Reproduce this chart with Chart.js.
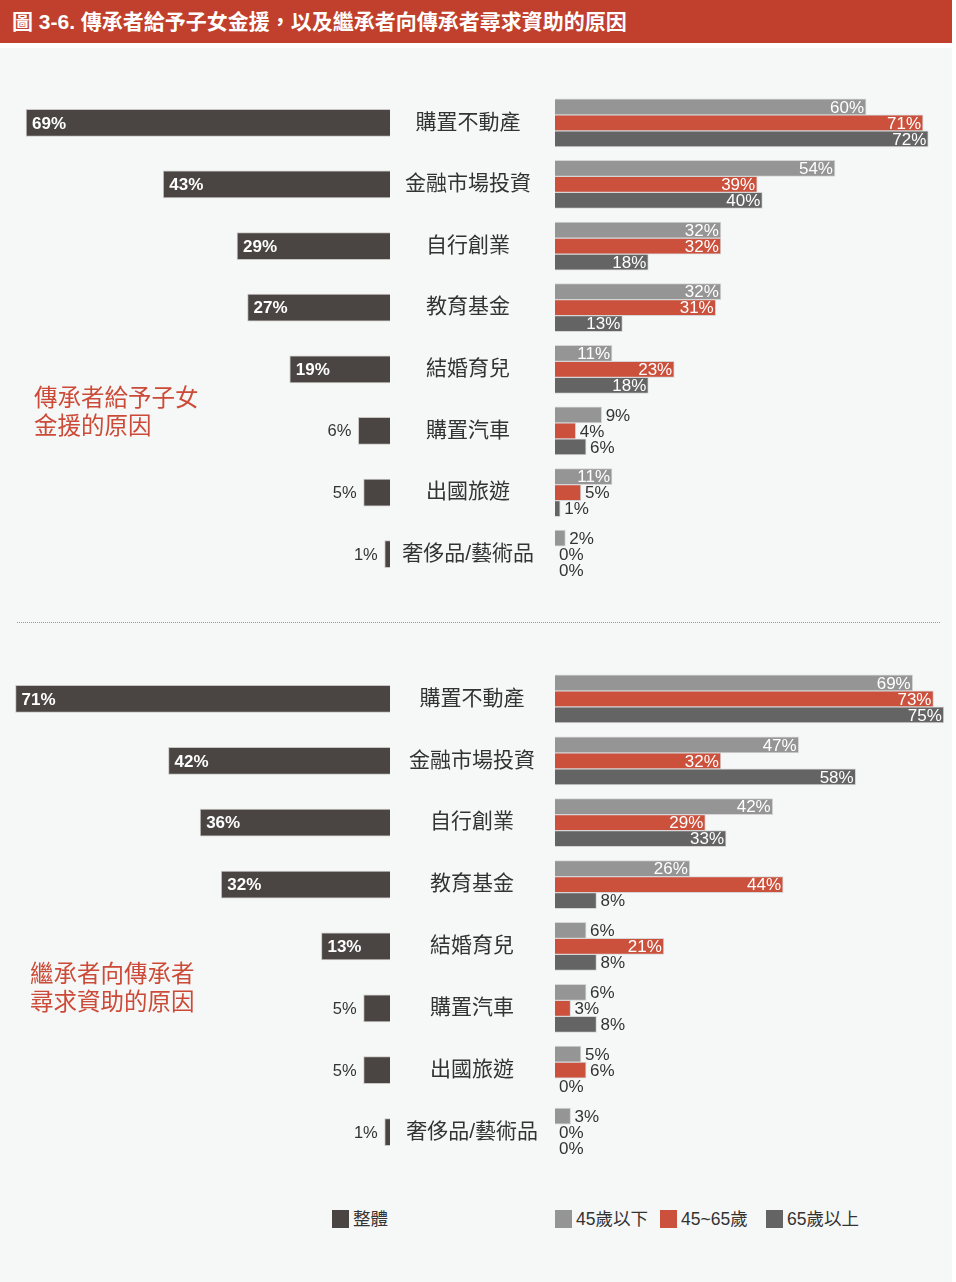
<!DOCTYPE html>
<html>
<head>
<meta charset="utf-8">
<script src="https://cdn.jsdelivr.net/npm/chart.js@4/dist/chart.umd.min.js"></script>
<style>
  html, body { margin: 0; padding: 0; background: #fff; }
  body { width: 956px; height: 1282px; position: relative; overflow: hidden;
         font-family: "Liberation Sans", "Noto Sans CJK TC", sans-serif; }
  #title { position: absolute; left: 0; top: 0; width: 952px; height: 43px; background: #c0402d;
           color: #fff; font-weight: bold; font-size: 21px; line-height: 43px; padding-left: 12px;
           box-sizing: border-box; }
  #panel { position: absolute; left: 0; top: 48px; width: 952px; height: 1234px; background: #f6f7f7; }
  canvas { position: absolute; }
  .side { position: absolute; color: #cc4b38; font-size: 23.5px; line-height: 28px; }
  #sep { position: absolute; left: 17px; top: 622px; width: 923px; border-top: 1px dotted #9a9a9a; }
  .leg { position: absolute; top: 1208px; font-size: 17.5px; color: #333; line-height: 22px; }
  .leg i { display: inline-block; width: 17px; height: 18px; vertical-align: -3px; margin-right: 4px; }
</style>
</head>
<body>
<div id="title">圖 3-6. 傳承者給予子女金援，以及繼承者向傳承者尋求資助的原因</div>
<div id="panel"></div>

<canvas id="giveTotalChart" width="390" height="493" style="left:0;top:92px"></canvas>
<canvas id="giveAgeChart" width="566" height="493" style="left:390px;top:92px"></canvas>
<div class="side" style="left:34px;top:384px">傳承者給予子女<br>金援的原因</div>

<div id="sep"></div>

<canvas id="seekTotalChart" width="390" height="495" style="left:0;top:668px"></canvas>
<canvas id="seekAgeChart" width="566" height="495" style="left:390px;top:668px"></canvas>
<div class="side" style="left:30px;top:960px">繼承者向傳承者<br>尋求資助的原因</div>

<div class="leg" style="left:332px"><i style="background:#4a4542"></i>整體</div>
<div class="leg" style="left:555px"><i style="background:#959595"></i>45歲以下</div>
<div class="leg" style="left:660px"><i style="background:#cc513c"></i>45~65歲</div>
<div class="leg" style="left:766px"><i style="background:#646464"></i>65歲以上</div>

<script>
const categories = ["購置不動產", "金融市場投資", "自行創業", "教育基金", "結婚育兒", "購置汽車", "出國旅遊", "奢侈品/藝術品"];
const seriesNames = ["45歲以下", "45~65歲", "65歲以上"];

// 傳承者給予子女金援
const giveTotal = [69, 43, 29, 27, 19, 6, 5, 1];
const giveUnder45 = [60, 54, 32, 32, 11, 9, 11, 2];
const give45to65 = [71, 39, 32, 31, 23, 4, 5, 0];
const giveOver65 = [72, 40, 18, 13, 18, 6, 1, 0];

// 繼承者向傳承者尋求資助
const seekTotal = [71, 42, 36, 32, 13, 5, 5, 1];
const seekUnder45 = [69, 47, 42, 26, 6, 6, 5, 3];
const seek45to65 = [73, 32, 29, 44, 21, 3, 6, 0];
const seekOver65 = [75, 58, 33, 8, 8, 8, 0, 0];

const FONT = '"Liberation Sans", "Noto Sans CJK TC", sans-serif';
const ageColors = ["#959595", "#cc513c", "#646464"];

// draws the % numbers, inside the bar when it is long enough, else next to it
const valueLabels = {
  id: "valueLabels",
  afterDatasetsDraw(chart, args, opts) {
    const ctx = chart.ctx;
    ctx.save();
    ctx.textBaseline = "middle";
    chart.data.datasets.forEach((ds, di) => {
      const meta = chart.getDatasetMeta(di);
      meta.data.forEach((bar, i) => {
        const v = ds.data[i];
        const txt = v + "%";
        const inside = v >= 10;
        const y = bar.y + 1;
        if (opts.side === "left") {
          if (inside) {
            ctx.font = "bold 17px " + FONT;
            ctx.fillStyle = "#fff";
            ctx.textAlign = "left";
            ctx.fillText(txt, bar.x + 6, y);
          } else {
            ctx.font = "16.5px " + FONT;
            ctx.fillStyle = "#333";
            ctx.textAlign = "right";
            ctx.fillText(txt, bar.x - 7, y);
          }
        } else {
          ctx.font = "17px " + FONT;
          if (inside) {
            ctx.fillStyle = "#fff";
            ctx.textAlign = "right";
            ctx.fillText(txt, bar.x - 2, y);
          } else {
            ctx.fillStyle = "#333";
            ctx.textAlign = "left";
            ctx.fillText(txt, bar.x + 4, y);
          }
        }
      });
    });
    ctx.restore();
  }
};

function totalChart(id, values) {
  return new Chart(document.getElementById(id), {
    type: "bar",
    data: {
      labels: categories,
      datasets: [{
        label: "整體",
        data: values,
        backgroundColor: "#4a4542",
        borderColor: "#c9c6c4",
        borderWidth: 1,
        barThickness: 27
      }]
    },
    options: {
      indexAxis: "y",
      responsive: false,
      animation: false,
      layout: { padding: { left: 5, right: 0, top: 0, bottom: 0 } },
      scales: {
        x: { display: false, reverse: true, min: 0, max: 73 },
        y: { display: false }
      },
      plugins: {
        legend: { display: false },
        tooltip: { enabled: false },
        valueLabels: { side: "left" }
      }
    },
    plugins: [valueLabels]
  });
}

function ageChart(id, a, b, c, labelPad) {
  const sets = [a, b, c].map((d, k) => ({
    label: seriesNames[k],
    data: d,
    backgroundColor: ageColors[k],
    borderColor: "#d6d6d6",
    borderWidth: 1,
    barThickness: 16
  }));
  return new Chart(document.getElementById(id), {
    type: "bar",
    data: { labels: categories, datasets: sets },
    options: {
      indexAxis: "y",
      responsive: false,
      animation: false,
      layout: { padding: { left: 0, right: 7, top: 0, bottom: 0 } },
      scales: {
        x: { display: false, min: 0, max: 76 },
        y: {
          grid: { display: false },
          border: { display: false },
          ticks: { color: "#333", font: { size: 21, family: FONT }, crossAlign: "center", padding: labelPad },
          afterFit(scale) {
            scale.width = 165;
            scale.paddingTop = 0;
            scale.paddingBottom = 0;
          }
        }
      },
      plugins: {
        legend: { display: false },
        tooltip: { enabled: false },
        valueLabels: { side: "right" }
      }
    },
    plugins: [valueLabels]
  });
}

totalChart("giveTotalChart", giveTotal);
ageChart("giveAgeChart", giveUnder45, give45to65, giveOver65, 13);
totalChart("seekTotalChart", seekTotal);
ageChart("seekAgeChart", seekUnder45, seek45to65, seekOver65, 9);
</script>
</body>
</html>
